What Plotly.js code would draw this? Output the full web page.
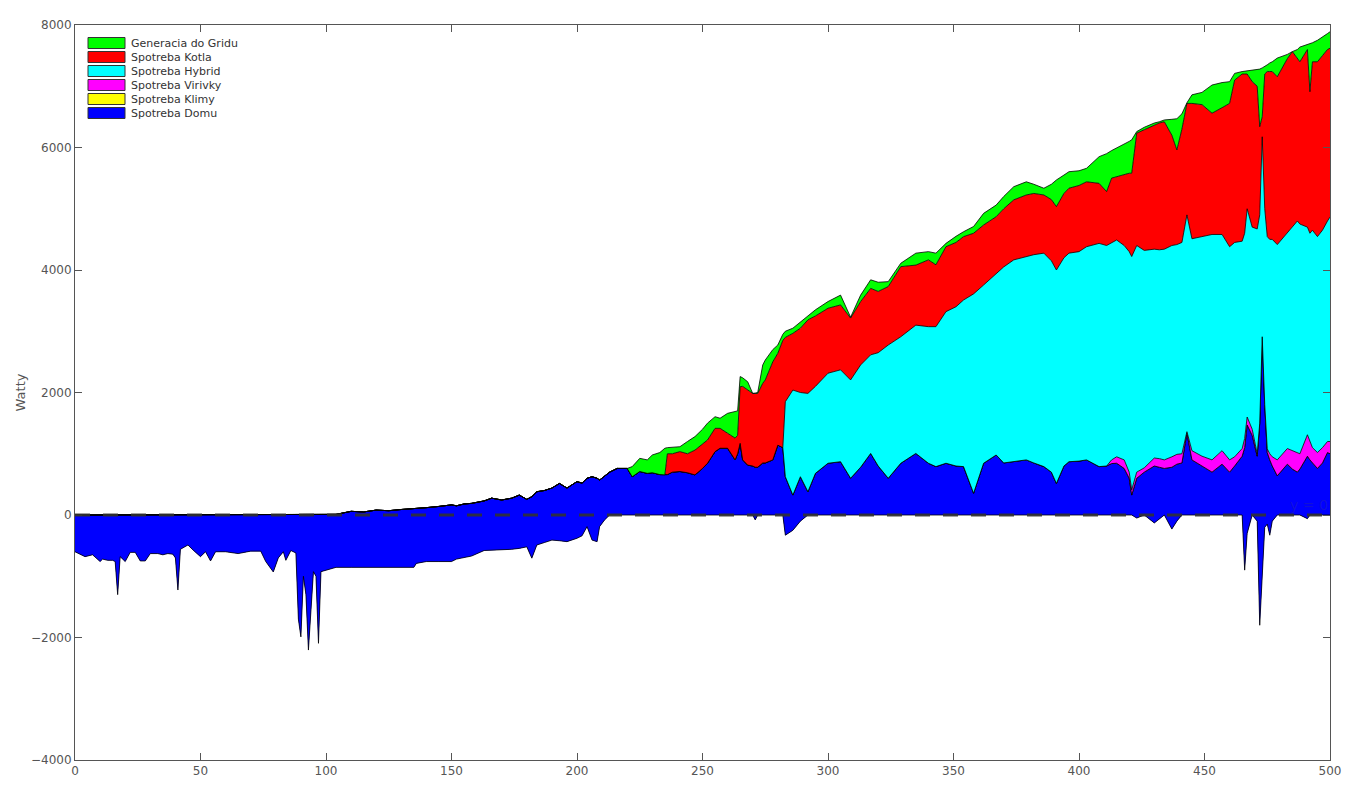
<!DOCTYPE html>
<html>
<head>
<meta charset="utf-8">
<script src="https://cdn.plot.ly/plotly-3.0.1.min.js"></script>
<style>html,body{margin:0;padding:0;background:#fff;}#chart{width:1363px;height:800px;}</style>
</head>
<body>
<div id="chart"></div>
<script>
// x positions (sample index)
const xIdx = [
  0,2,4,7,10,11,13,15,16,17,18,20,22,24,26,28,30,33,35,37,39,40,41,42,45,47,50,52,54,56,60,65,70,74,76,79,81,83,84,86,88,89,90,91,92,93,94,95,96,97,98,100,
  104,110,115,120,125,130,135,136,140,145,150,152,155,158,163,166,170,174,177,180,182,184,187,190,193,196,200,202,204,206,208,209,211,213,216,220,
  222,225,228,230,233,235,236,238,241,244,247,250,252,255,257,260,263,264,265,266,268,270,271,272,274,275,278,280,282,
  283,286,289,292,295,300,305,309,313,317,320,324,329,335,340,343,347,351,354,358,362,367,370,374,379,382,386,389,391,394,396,400,403,408,411,
  413,415,418,420,421,423,426,430,432,434,437,439,441,443,445,449,453,457,460,462,465,466,467,469,471,472,473,474,475,476,477,479,483,485,487,488,491,492,493,495,497,499,500
];

// negative part, drawn in blue below the zero line
const zaporna = [
  -600,-640,-680,-650,-760,-720,-740,-740,-760,-1300,-680,-760,-610,-610,-750,-750,-630,-630,-650,-630,-640,-700,-1225,-560,-490,-570,-680,-600,-750,-600,-600,-630,-590,-590,-760,-930,-700,-600,-740,-580,-620,-1700,-1990,-1000,-1300,-2205,-1500,-925,-1000,-2095,-925,-900,
  -855,-855,-855,-855,-855,-855,-855,-790,-760,-760,-760,-720,-700,-670,-580,-575,-570,-560,-545,-520,-705,-490,-450,-410,-420,-435,-380,-340,-190,-410,-435,-190,-80,0,0,0,
  0,0,0,0,0,0,0,0,0,0,0,0,0,0,0,0,0,0,0,0,0,0,-80,0,0,0,0,0,0,
  -330,-250,-100,0,0,0,0,0,0,0,0,0,0,0,0,0,0,0,0,0,0,0,0,0,0,0,0,0,0,0,0,0,0,0,0,
  0,0,0,0,0,-50,0,-130,-60,0,-230,-100,0,0,0,0,0,0,0,0,0,-900,-300,0,-100,-1800,-1000,-200,-150,-330,-100,0,0,0,0,0,-60,0,0,0,0,0,0
];

const spotrebaDomu = [
  600,640,680,650,760,720,740,740,760,1300,680,760,610,610,750,750,630,630,650,630,640,700,1225,560,490,570,680,600,750,600,600,630,590,590,760,930,700,600,740,580,620,1700,1990,1000,1300,2205,1500,925,1000,2095,925,900,
  865,915,905,935,925,945,955,900,880,900,925,870,880,860,810,850,815,835,870,775,1005,870,850,850,935,875,925,860,790,1035,1035,760,720,700,760,760,
  625,710,680,690,660,655,660,700,710,690,655,760,845,1035,1090,1090,900,1000,1170,900,815,800,860,780,850,850,900,1140,1100,
  955,575,725,380,680,845,870,600,780,1005,800,600,845,1005,845,790,845,800,790,355,845,980,850,870,900,850,790,700,515,800,870,880,900,790,800,
  840,845,760,600,325,650,700,930,840,760,1010,930,850,1340,900,800,700,830,700,800,960,2000,1770,1300,1060,3300,3910,2000,1170,1230,900,640,830,750,700,750,1020,900,850,760,850,1020,1000
];

const spotrebaKlimy = xIdx.map(() => 0);

const spotrebaVirivky = [
  0,0,0,0,0,0,0,0,0,0,0,0,0,0,0,0,0,0,0,0,0,0,0,0,0,0,0,0,0,0,0,0,0,0,0,0,0,0,0,0,0,0,0,0,0,0,0,0,0,0,0,0,
  0,0,0,0,0,0,0,0,0,0,0,0,0,0,0,0,0,0,0,0,0,0,0,0,0,0,0,0,0,0,0,0,0,0,0,0,
  0,0,0,0,0,0,0,0,0,0,0,0,0,0,0,0,0,0,0,0,0,0,0,0,0,0,0,0,0,
  0,0,0,0,0,0,0,0,0,0,0,0,0,0,0,0,0,0,0,0,0,0,0,0,0,0,0,0,0,0,0,0,0,0,0,
  60,105,140,100,85,100,70,130,140,140,170,160,150,20,150,160,200,220,200,150,125,150,130,100,40,0,0,0,60,100,150,260,255,300,320,250,350,300,250,260,250,180,200
];

const spotrebaHybrid = [
  0,0,0,0,0,0,0,0,0,0,0,0,0,0,0,0,0,0,0,0,0,0,0,0,0,0,0,0,0,0,0,0,0,0,0,0,0,0,0,0,0,0,0,0,0,0,0,0,0,0,0,0,
  0,0,0,0,0,0,0,0,0,0,0,0,0,0,0,0,0,0,0,0,0,0,0,0,0,0,0,0,0,0,0,0,0,0,0,0,
  0,0,0,0,0,0,0,0,0,0,0,0,0,0,0,0,0,0,0,0,0,0,0,0,0,0,0,0,0,
  1225,1715,1375,1605,1420,1470,1500,1605,1670,1610,1850,2175,2065,2095,2230,2285,2475,2600,2720,3255,2910,2965,3200,3295,3320,3400,3485,3450,3485,3400,3405,3420,3480,3645,3600,
  3550,3540,3500,3600,3810,3700,3550,3410,3410,3440,3450,3425,3450,3540,3460,3585,3680,3530,3480,3500,3385,3350,3400,3300,3670,3400,3265,3200,3465,3500,3550,3515,3515,3650,3780,3750,3390,3400,3550,3525,3550,3600,3665
];

const spotrebaKotla = [
  0,0,0,0,0,0,0,0,0,0,0,0,0,0,0,0,0,0,0,0,0,0,0,0,0,0,0,0,0,0,0,0,0,0,0,0,0,0,0,0,0,0,0,0,0,0,0,0,0,0,0,0,
  0,0,0,0,0,0,0,0,0,0,0,0,0,0,0,0,0,0,0,0,0,0,0,0,0,0,0,0,0,0,0,0,0,0,0,0,
  0,0,0,0,0,0,340,300,325,310,405,390,380,380,325,245,355,300,925,1200,1225,1185,1205,1205,1300,1355,1600,1500,1750,
  1050,925,1050,1200,1150,1060,1060,1010,1035,1085,1000,955,1145,980,1090,1010,1060,1050,1035,990,980,925,950,980,1005,1000,950,1000,1035,1050,1060,1080,1060,980,880,
  1050,1035,1160,1280,1360,1835,1970,2030,2070,2080,1800,1545,1850,1820,2210,2155,1980,2070,2340,2650,2730,2600,2200,2375,2330,1440,325,2200,2695,2740,2740,2740,2850,2865,2650,2650,2900,2310,2750,2855,2850,2800,2755
];

const generaciaDoGridu = [
  0,0,0,0,0,0,0,0,0,0,0,0,0,0,0,0,0,0,0,0,0,0,0,0,0,0,0,0,0,0,0,0,0,0,0,0,0,0,0,0,0,0,0,0,0,0,0,0,0,0,0,0,
  0,0,0,0,0,0,0,0,0,0,0,0,0,0,0,0,0,0,0,0,0,0,0,0,0,0,0,0,0,0,0,0,0,0,0,0,
  165,215,220,290,360,435,100,110,80,200,220,250,275,190,165,325,435,400,165,140,135,0,5,15,300,325,200,135,100,
  100,85,100,80,100,110,160,15,105,140,150,80,55,195,135,190,55,100,80,110,190,190,200,215,215,150,110,250,435,300,270,240,220,435,620,
  450,465,490,520,545,25,40,30,20,30,260,510,250,10,140,200,460,410,355,110,40,45,50,190,270,940,800,120,110,140,160,305,70,0,150,240,80,790,310,350,300,260,270
];

// stacking order (bottom to top)
const seriesNames = ['Spotreba Domu','Spotreba Klimy','Spotreba Virivky','Spotreba Hybrid','Spotreba Kotla','Generacia do Gridu'];
const seriesColors = ['#0000ff','#ffff00','#ff00ff','#00ffff','#ff0000','#00ff00'];
const seriesValues = [spotrebaDomu, spotrebaKlimy, spotrebaVirivky, spotrebaHybrid, spotrebaKotla, generaciaDoGridu];

const edge = {color:'#000000', width:0.8};
const traces = [{
  type:'scatter', mode:'lines', x:xIdx, y:zaporna, stackgroup:'s', fill:'tozeroy',
  fillcolor:'#0000ff', line:edge, showlegend:false, hoverinfo:'skip', name:'neg'
}];
seriesValues.forEach((vals, i) => {
  traces.push({
    type:'scatter', mode:'lines', x:xIdx, y:vals, stackgroup:'s', fill:'tonexty',
    fillcolor:seriesColors[i], line:edge, name:seriesNames[i], showlegend:false
  });
});

// hand-drawn legend (top-left inside the axes), listed top layer first
const shapes = [{type:'line', xref:'x', yref:'y', x0:0, x1:500, y0:0, y1:0,
                 line:{color:'rgba(50,50,50,0.9)', width:3, dash:'15px,13px'}}];
const annotations = [{xref:'x', yref:'y', x:500, y:0, xanchor:'right', yanchor:'bottom', showarrow:false,
                      text:'y = 0', font:{family:'DejaVu Sans, sans-serif', size:14, color:'rgba(80,80,80,0.22)'}}];
for (let k = 0; k < seriesNames.length; k++) {
  const i = seriesNames.length - 1 - k;
  const cy = -(18 + 14 * k);
  shapes.push({type:'rect', xref:'paper', yref:'paper', xsizemode:'pixel', ysizemode:'pixel',
               xanchor:0, yanchor:1, x0:13, x1:50, y0:cy - 5.5, y1:cy + 5.5,
               fillcolor:seriesColors[i], line:{color:'#333', width:1}});
  annotations.push({xref:'paper', yref:'paper', x:0, y:1, xshift:54, yshift:cy, xanchor:'left', yanchor:'middle',
                    showarrow:false, text:seriesNames[i],
                    font:{family:'DejaVu Sans, sans-serif', size:11, color:'#333'}});
}

const axisCommon = {
  showline:true, mirror:'ticks', linecolor:'#555', linewidth:1,
  ticks:'inside', ticklen:7, tickcolor:'#555', showgrid:false, zeroline:false,
  tickfont:{family:'DejaVu Sans, sans-serif', size:12, color:'#555'}
};

const layout = {
  width:1363, height:800,
  margin:{l:75, r:33, t:25, b:40},
  paper_bgcolor:'#fff', plot_bgcolor:'#fff',
  showlegend:false,
  xaxis:Object.assign({}, axisCommon, {range:[0,500], tickvals:[0,50,100,150,200,250,300,350,400,450,500]}),
  yaxis:Object.assign({}, axisCommon, {range:[-4000,8000], tickvals:[-4000,-2000,0,2000,4000,6000,8000],
          title:{text:'Watty', font:{family:'DejaVu Sans, sans-serif', size:13, color:'#555'}, standoff:2}}),
  shapes:shapes,
  annotations:annotations
};

Plotly.newPlot('chart', traces, layout, {staticPlot:true});
</script>
</body>
</html>
